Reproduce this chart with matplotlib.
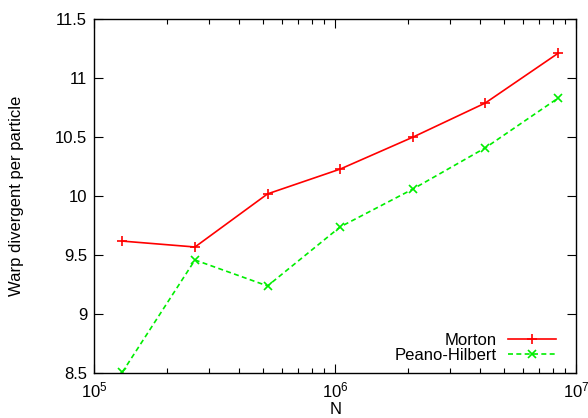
import matplotlib
matplotlib.use("Agg")
import matplotlib.pyplot as plt
from matplotlib.ticker import LogLocator, LogFormatterMathtext, MultipleLocator, FormatStrFormatter

plt.rcParams['font.family'] = ['Liberation Sans', 'DejaVu Sans']
plt.rcParams['mathtext.fontset'] = 'custom'
plt.rcParams['mathtext.rm'] = 'Liberation Sans'
plt.rcParams['mathtext.it'] = 'Liberation Sans'

# particle counts 2^17 .. 2^23
n_particles = [131072, 262144, 524288, 1048576, 2097152, 4194304, 8388608]
morton = [9.62, 9.57, 10.02, 10.23, 10.50, 10.79, 11.21]
peano_hilbert = [8.51, 9.46, 9.24, 9.74, 10.06, 10.41, 10.83]

fig = plt.figure(figsize=(5.88, 4.18), dpi=100)
ax = fig.add_axes([0.160, 0.107, 0.820, 0.847])

ax.plot(n_particles, morton, color='#ff0000', lw=1.2, marker='+', ms=7,
        mew=1.2, label='Morton')
ax.plot(n_particles, peano_hilbert, color='#00ee00', lw=1.2, ls=(0, (3, 2)),
        marker='x', ms=6, mew=1.2, label='Peano-Hilbert')

ax.set_xscale('log')
ax.set_xlim(1e5, 1e7)
ax.set_ylim(8.5, 11.5)
ax.xaxis.set_major_locator(LogLocator(base=10))
ax.xaxis.set_major_formatter(LogFormatterMathtext())
ax.xaxis.set_minor_locator(LogLocator(base=10, subs=range(2, 10)))
ax.yaxis.set_major_locator(MultipleLocator(0.5))
ax.yaxis.set_major_formatter(FormatStrFormatter('%g'))

ax.tick_params(which='both', direction='in', top=True, right=True,
               labelsize=12, width=0.8)
ax.tick_params(which='major', length=6.5, pad=5)
ax.tick_params(which='minor', length=3.3)
for sp in ax.spines.values():
    sp.set_linewidth(1.0)

ax.set_xlabel('N', fontsize=12, labelpad=1)
ax.set_ylabel('Warp divergent per particle', fontsize=12, labelpad=22)

ax.legend(loc='lower right', bbox_to_anchor=(0.972, 0.01), borderaxespad=0,
          frameon=False, markerfirst=False, fontsize=12, handlelength=2.9,
          labelspacing=0.0, handletextpad=0.65)

fig.savefig('out.png', dpi=100)
